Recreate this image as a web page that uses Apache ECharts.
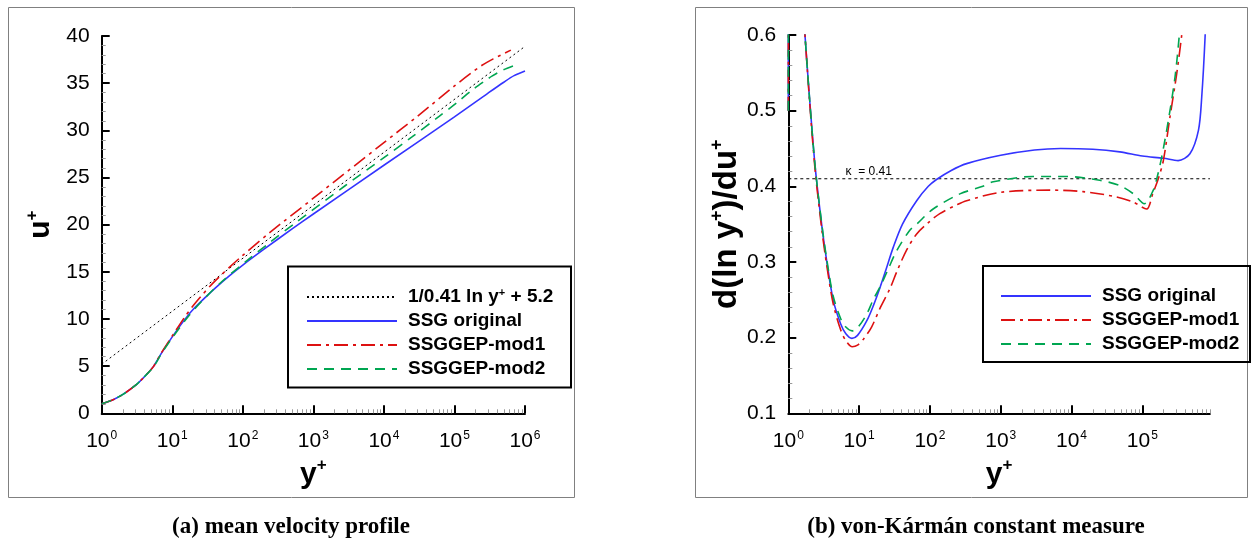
<!DOCTYPE html>
<html><head><meta charset="utf-8">
<script src="https://cdn.jsdelivr.net/npm/echarts@6/dist/echarts.min.js"></script>
<style>html,body{margin:0;padding:0;background:#fff}#c{width:1252px;height:544px}</style>
</head><body><div id="c"></div><script>
// ---------- (a) mean velocity profile : [y+, u+]
const logLawA = [[1, 5.2], [1e6, 38.9]];
const uSSG = [[1,1.0],[1.5,1.5],[2,2.0],[3,2.95],[4,3.85],[5.4,4.95],[7,6.35],[10,8.1],[15,9.93],[20,11.05],[30,12.35],[41,13.3],[65,14.6],[100,15.72],[200,17.4],[500,19.55],[1e3,21.13],[1e4,26.3],[1e5,31.43],[3e5,33.95],[5e5,35.1],[7e5,35.8],[1e6,36.3]];
const uMod1 = [[1,1.0],[1.5,1.5],[2,2.0],[3,2.95],[4,3.85],[5.4,4.95],[7,6.4],[10,8.2],[15,10.2],[20,11.45],[27,12.6],[34,13.45],[47,14.5],[65,15.5],[95,16.6],[245,19.2],[1e3,22.8],[1e4,28.7],[3e4,31.5],[1e5,34.7],[1.68e5,36.0],[2.46e5,36.9],[3.6e5,37.6],[4.5e5,37.95],[6.3e5,38.5]];
const uMod2 = [[1,1.0],[1.5,1.5],[2,2.0],[3,2.95],[4,3.85],[5.4,4.9],[7,6.3],[10,8.0],[15.8,10.0],[25.6,11.8],[52,14.05],[111,16.1],[250,18.2],[560,20.2],[2850,24.15],[1e4,27.1],[2.5e4,29.3],[6e4,31.45],[1.07e5,32.9],[1.88e5,34.4],[2.9e5,35.4],[3.4e5,35.75],[4.9e5,36.4],[6.9e5,36.85]];
const xTicksA = [1, 10, 100, 1e3, 1e4, 1e5, 1e6];

// ---------- (b) von-Karman constant measure : [y+, d(ln y+)/du+]
const kSSG = [[1.0,0.5],[1.06,0.95],[1.3,0.77],[1.72,0.6],[2.0,0.515],[2.4,0.425],[3.0,0.345],[3.5,0.30],[4.3,0.25],[5.5,0.218],[6.5,0.205],[7.9,0.199],[9.5,0.203],[12.8,0.222],[16,0.243],[19.7,0.266],[24,0.29],[30,0.318],[41,0.35],[65,0.381],[95,0.40],[124,0.409],[200,0.421],[330,0.430],[1e3,0.441],[3e3,0.448],[7e3,0.450],[2e4,0.449],[4.8e4,0.4455],[1e5,0.44],[2e5,0.437],[3.2e5,0.434],[4.7e5,0.443],[6.2e5,0.474],[6.9e5,0.518],[7.7e5,0.598],[8e5,0.65]];
const kMod1 = [[1.0,0.5],[1.06,0.95],[1.3,0.77],[1.72,0.6],[2.0,0.512],[2.4,0.42],[3.0,0.34],[3.5,0.295],[4.3,0.245],[5.5,0.21],[6.5,0.196],[8,0.188],[9.5,0.19],[11.5,0.198],[15,0.214],[20,0.24],[27.3,0.265],[34,0.287],[47,0.316],[65,0.337],[95,0.352],[138,0.364],[245,0.376],[330,0.381],[980,0.392],[4900,0.395],[1.45e4,0.393],[4.3e4,0.386],[7.5e4,0.379],[1.15e5,0.370],[1.4e5,0.39],[1.68e5,0.41],[1.98e5,0.434],[2.46e5,0.492],[3.06e5,0.549],[3.6e5,0.60],[4e5,0.64]];
const kMod2 = [[1.0,0.5],[1.06,0.95],[1.3,0.77],[1.72,0.6],[2.0,0.515],[2.4,0.425],[3.0,0.347],[3.5,0.303],[4.3,0.255],[5.5,0.225],[6.5,0.214],[8,0.209],[9.5,0.213],[12.8,0.231],[15.8,0.25],[20,0.268],[25.6,0.29],[34,0.315],[52,0.342],[65,0.350],[111,0.37],[265,0.39],[560,0.40],[786,0.406],[2850,0.413],[8500,0.413],[2.5e4,0.408],[4.8e4,0.401],[7.5e4,0.39],[1.07e5,0.377],[1.43e5,0.395],[1.6e5,0.41],[1.88e5,0.439],[2.33e5,0.487],[2.9e5,0.545],[3.33e5,0.6],[3.6e5,0.64]];
const kappaRef = [[1, 0.41], [9e5, 0.41]];
const kappaLabelAt = [13.7, 0.41];
const xTicksB = [1, 10, 100, 1e3, 1e4, 1e5];

const seriesNames = ['1/0.41 ln y+ + 5.2', 'SSG original', 'SSGGEP-mod1', 'SSGGEP-mod2'];

// ---------- styles
const FONT = '"Liberation Sans", Arial, Helvetica, sans-serif';
const SERIF = '"Liberation Serif", "Times New Roman", serif';
const C_BLUE = '#3434ff', C_RED = '#dd1111', C_GREEN = '#00a651';
const STY = {
  loglaw: {color: '#000', width: 1, type: [2, 3]},
  ssg:   {color: C_BLUE, width: 1.6, type: 'solid'},
  mod1:  {color: C_RED, width: 1.6, type: [14, 5, 3, 5]},
  mod2:  {color: C_GREEN, width: 1.6, type: [10, 7]}
};

function minorTicks(maxVal) {
  const a = [];
  for (let e = 0; e < 7; e++) for (let m = 2; m <= 9; m++) {
    const v = m * Math.pow(10, e);
    if (v <= maxVal * 1.0001) a.push(v);
  }
  return a;
}
const expLabel = v => '{n|10}{e|' + Math.round(Math.log10(v)) + '}';
const xLabelRich = {
  n: {fontSize: 21, fontFamily: FONT, color: '#000', lineHeight: 24},
  e: {fontSize: 12, fontFamily: FONT, color: '#000', lineHeight: 12, verticalAlign: 'top', padding: [0, 0, 0, 1]}
};
const titleRich = (size, sup) => ({
  b: {fontSize: size, fontWeight: 'bold', fontFamily: FONT, color: '#000', lineHeight: size + 4},
  s: {fontSize: sup, fontWeight: 'bold', fontFamily: FONT, color: '#000', lineHeight: sup, verticalAlign: 'top'}
});

function logXAxis(grid, max, ticks, name) {
  return [{
    gridIndex: grid, type: 'log', logBase: 10, min: 1, max: max, position: 'bottom',
    axisLine: {show: true, onZero: false, lineStyle: {color: '#000', width: 2}},
    axisTick: {show: true, inside: true, length: 8, lineStyle: {color: '#000', width: 2}, customValues: ticks},
    axisLabel: {show: true, customValues: ticks, formatter: expLabel, rich: xLabelRich, margin: 16},
    splitLine: {show: false}, minorTick: {show: false},
    name: name, nameLocation: 'middle', nameGap: 44,
    nameTextStyle: {rich: titleRich(30, 17)}
  }, {
    gridIndex: grid, type: 'log', logBase: 10, min: 1, max: max, position: 'bottom',
    axisLine: {show: false},
    axisTick: {show: true, inside: true, length: 4, lineStyle: {color: '#999', width: 1}, customValues: minorTicks(max)},
    axisLabel: {show: false}, splitLine: {show: false}
  }];
}
function valYAxis(grid, min, max, interval, fmt, name, gap, size, sup) {
  return {
    gridIndex: grid, type: 'value', min: min, max: max, interval: interval,
    axisLine: {show: true, onZero: false, lineStyle: {color: '#000', width: 2}},
    axisTick: {show: true, inside: true, length: 8, lineStyle: {color: '#000', width: 2}},
    minorTick: {show: true, splitNumber: 5, length: 4, lineStyle: {color: '#999', width: 1}},
    axisLabel: {show: true, formatter: fmt, fontSize: 21, fontFamily: FONT, color: '#000', margin: 12},
    splitLine: {show: false},
    name: name, nameLocation: 'middle', nameGap: gap,
    nameTextStyle: {rich: titleRich(size, sup)}
  };
}

function line(name, data, sty, xi, yi, extra) {
  return Object.assign({
    name: name, type: 'line', data: data, xAxisIndex: xi, yAxisIndex: yi,
    symbol: 'none', smooth: 0.3, clip: true,
    lineStyle: sty, itemStyle: {color: sty.color}, emphasis: {disabled: true}, silent: true
  }, extra || {});
}

const legendCommon = {
  orient: 'vertical', itemWidth: 90, itemHeight: 14, itemGap: 4, selectedMode: false,
  itemStyle: {color: 'rgba(0,0,0,0)', borderWidth: 0, opacity: 0},
  textStyle: {fontSize: 19, fontWeight: 'bold', fontFamily: FONT, color: '#000', lineHeight: 20, padding: [0, 0, 0, 6],
    rich: {sup: {fontSize: 11, fontWeight: 'bold', fontFamily: FONT, color: '#000', lineHeight: 10, verticalAlign: 'top'}}},
  formatter: n => n === seriesNames[0] ? '1/0.41 ln y{sup|+} + 5.2' : n
};

const chart = echarts.init(document.getElementById('c'));
chart.setOption({
  animation: false,
  backgroundColor: '#fff',
  grid: [
    {left: 101.7, top: 36, width: 423.3, height: 377.3},
    {left: 788.3, top: 35, width: 421.6, height: 378.3}
  ],
  xAxis: [].concat(logXAxis(0, 1e6, xTicksA, '{b|y}{s|+}'), logXAxis(1, 9e5, xTicksB, '{b|y}{s|+}')),
  yAxis: [
    valYAxis(0, 0, 40, 5, v => String(v), '{b|u}{s|+}', 44, 30, 17),
    valYAxis(1, 0.1, 0.6, 0.1, v => v.toFixed(1), '{b|d(ln y}{s|+}{b|)/du}{s|+}', 42, 33, 18)
  ],
  legend: [
    Object.assign({}, legendCommon, {left: 301, top: 282, data: seriesNames}),
    Object.assign({}, legendCommon, {left: 995, top: 281, data: seriesNames.slice(1)})
  ],
  series: [
    line(seriesNames[0], logLawA, STY.loglaw, 0, 0, {smooth: false}),
    line(seriesNames[1], uSSG, STY.ssg, 0, 0),
    line(seriesNames[2], uMod1, STY.mod1, 0, 0),
    line(seriesNames[3], uMod2, STY.mod2, 0, 0),
    line('kappa', kappaRef, {color: '#000', width: 1, type: [3, 3]}, 2, 1, {
      smooth: false,
      markPoint: {symbol: 'rect', symbolSize: 1, itemStyle: {color: 'rgba(0,0,0,0)'}, silent: true,
        data: [{coord: kappaLabelAt, label: {show: true, position: 'top', distance: 1, formatter: 'κ  = 0.41',
          fontSize: 12, fontFamily: FONT, color: '#000'}}]}
    }),
    line(seriesNames[1], kSSG, STY.ssg, 2, 1),
    line(seriesNames[2], kMod1, STY.mod1, 2, 1),
    line(seriesNames[3], kMod2, STY.mod2, 2, 1)
  ],
  graphic: [
    {type: 'rect', silent: true, shape: {x: 8.5, y: 7.5, width: 566, height: 490}, style: {fill: 'none', stroke: '#808080', lineWidth: 1}},
    {type: 'rect', silent: true, shape: {x: 695.5, y: 7.5, width: 552, height: 490}, style: {fill: 'none', stroke: '#808080', lineWidth: 1}},
    {type: 'rect', silent: true, z: 10, shape: {x: 288, y: 266.5, width: 283, height: 121}, style: {fill: 'none', stroke: '#000', lineWidth: 2}},
    {type: 'rect', silent: true, z: 10, shape: {x: 983, y: 266, width: 267, height: 96}, style: {fill: 'none', stroke: '#000', lineWidth: 2}},
    {type: 'text', silent: true, x: 291, y: 527, style: {text: '(a) mean velocity profile', font: 'bold 23px ' + SERIF, fill: '#000', align: 'center', verticalAlign: 'middle'}},
    {type: 'text', silent: true, x: 976, y: 527, style: {text: '(b) von-Kármán constant measure', font: 'bold 23px ' + SERIF, fill: '#000', align: 'center', verticalAlign: 'middle'}}
  ]
});
</script></body></html>
